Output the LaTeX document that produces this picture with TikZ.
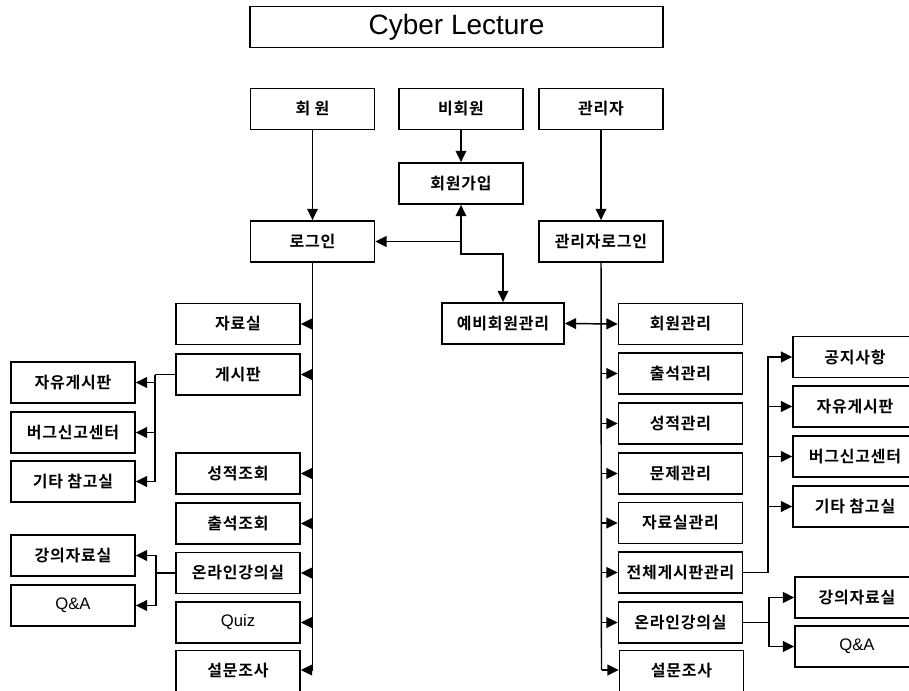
\documentclass[tikz,border=0pt]{standalone}
\usepackage{fontspec}
\setmainfont{Liberation Sans}
\newfontfamily\krfont{Noto Sans CJK KR Bold}[LetterSpace=5]
\usetikzlibrary{arrows.meta}
\tikzset{
  box/.style={draw, line width=1.1pt, inner sep=0pt, minimum width=93pt, minimum height=31pt,
    font=\krfont\fontsize{12}{14}\selectfont},
  latbox/.style={box, font=\fontsize{12.5}{14}\selectfont},
  conn/.style={line width=1.1pt},
  arr/.style={conn, -{Triangle[length=8.5pt,width=8pt]}},
  darr/.style={conn, {Triangle[length=8.5pt,width=8pt]}-{Triangle[length=8.5pt,width=8pt]}}
}
\begin{document}
\begin{tikzpicture}[x=0.75pt,y=-0.75pt]
\useasboundingbox (0,0) rectangle (909,691);
\clip (0,0) rectangle (909,691);
% title
\node[box, minimum width=309.75pt, font=\fontsize{21}{25}\selectfont] (title) at (456.5,27) {Cyber Lecture};
% top row
\node[box] (hw) at (312.5,109) {회 원};
\node[box] (bhw) at (461,109) {비회원};
\node[box] (adm) at (601,109) {관리자};
\node[box] (join) at (461,183.5) {회원가입};
\node[box] (login) at (312.5,241.5) {로그인};
\node[box] (alogin) at (601,241.5) {관리자로그인};
\node[box, minimum width=91.5pt] (yebi) at (503,323.5) {예비회원관리};
% left column
\node[box] (ljr) at (238,324) {자료실};
\node[box] (lgs) at (238,374.5) {게시판};
\node[box] (lsj) at (238,473.5) {성적조회};
\node[box] (lcs) at (238,523.5) {출석조회};
\node[box] (lon) at (238,573) {온라인강의실};
\node[latbox] (lqz) at (238,622.5) {Quiz};
\node[box] (lsm) at (238,671) {설문조사};
% far left
\node[box] (lfree) at (73,382.5) {자유게시판};
\node[box] (lbug) at (73,432.5) {버그신고센터};
\node[box] (letc) at (73,481.5) {기타 참고실};
\node[box] (llec) at (73,555.5) {강의자료실};
\node[latbox] (lqa) at (73,605.5) {Q\&A};
% right column
\node[box] (rmem) at (680.5,324) {회원관리};
\node[box] (rcs) at (680.5,373.5) {출석관리};
\node[box] (rsj) at (680.5,423.5) {성적관리};
\node[box] (rmj) at (680.5,473.5) {문제관리};
\node[box] (rjr) at (680.5,523) {자료실관리};
\node[box] (rall) at (680.5,572.5) {전체게시판관리};
\node[box] (ron) at (680.5,622.5) {온라인강의실};
\node[box] (rsm) at (681.5,671) {설문조사};
% far right
\node[box] (rnot) at (855,357) {공지사항};
\node[box] (rfree) at (855,406.5) {자유게시판};
\node[box] (rbug) at (855,456.5) {버그신고센터};
\node[box] (retc) at (855,506.5) {기타 참고실};
\node[box] (rlec) at (857,597.5) {강의자료실};
\node[latbox] (rqa) at (857,646.5) {Q\&A};

% top connectors
\draw[arr] (hw.south) -- (login.north);
\draw[arr] (bhw.south) -- (join.north);
\draw[arr] (adm.south) -- (alogin.north);
\coordinate (j1) at (join.south |- login.east);
\coordinate (j2) at (461,254);
\draw[arr] (j1) -- (login.east);
\draw[darr] (join.south) -- (j2) -| (yebi.north);
\draw[darr] (yebi.east) -- (rmem.west);

% left trunk
\coordinate (lend) at (312.5,670);
\draw[conn] (login.south) -- (lend);
\foreach \n in {ljr,lgs,lsj,lcs,lon,lqz}{
  \draw[arr] (login.south |- \n.east) -- (\n.east);
}
\draw[arr] (lend) -- (lend -| lsm.east);

% left sub-branches
\coordinate (lb1) at (155,374.5);
\draw[conn] (lgs.west) -- (lb1);
\foreach \n in {lfree,lbug,letc}{
  \draw[arr] (lb1) |- (\n.east);
}
\coordinate (lb2) at (156,573);
\draw[conn] (lon.west) -- (lb2);
\foreach \n in {llec,lqa}{
  \draw[arr] (lb2) |- (\n.east);
}

% right trunk
\coordinate (rend) at (601.5,670);
\draw[conn] (alogin.south) -- (rend);
\foreach \n in {rcs,rsj,rmj,rjr,rall,ron}{
  \draw[arr] (alogin.south |- \n.west) -- (\n.west);
}
\draw[arr] (rend) -- (rend -| rsm.west);

% right sub-branches
\coordinate (rb1) at (768,572.5);
\draw[conn] (rall.east) -- (rb1);
\foreach \n in {rnot,rfree,rbug,retc}{
  \draw[arr] (rb1) |- (\n.west);
}
\coordinate (rb2) at (769,622.5);
\draw[conn] (ron.east) -- (rb2);
\foreach \n in {rlec,rqa}{
  \draw[arr] (rb2) |- (\n.west);
}
\end{tikzpicture}
\end{document}
